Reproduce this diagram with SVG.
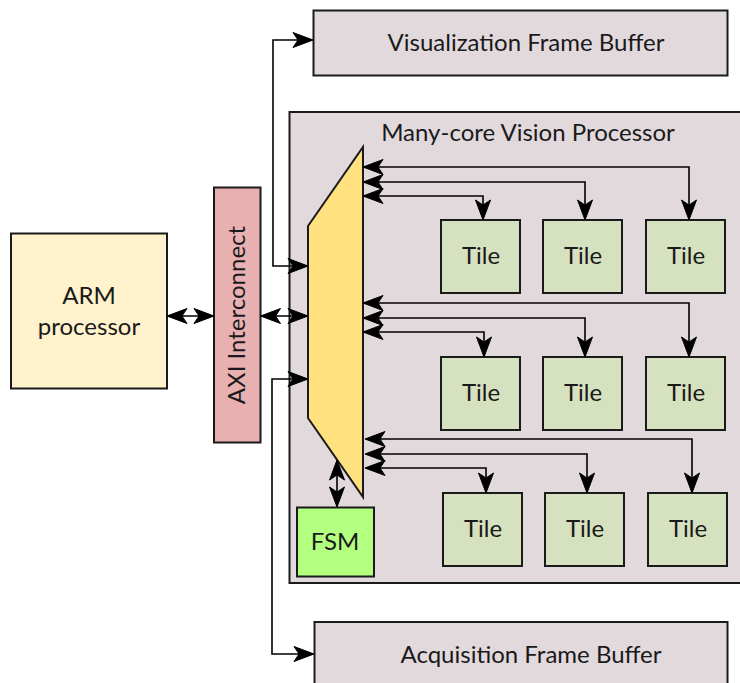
<svg xmlns="http://www.w3.org/2000/svg" width="740" height="683" viewBox="0 0 740 683">
  <style>
    .box { stroke: #1a1a1a; stroke-width: 2; }
    .buf { fill: #e2d9dd; }
    .tile { fill: #d6e2bf; }
    .lbl { font-family: Lato, "Liberation Sans", sans-serif; font-size: 24px; fill: #1a1a1a; text-anchor: middle; dominant-baseline: central; }
    .wire2 { fill: none; stroke: #000; stroke-width: 1.6; marker-start: url(#head); marker-end: url(#head); }
  </style>
  <defs>
    <marker id="head" viewBox="-1 -1 22 17" refX="19" refY="7.5" markerWidth="22" markerHeight="17" markerUnits="userSpaceOnUse" orient="auto-start-reverse">
      <path d="M0,0 L20,7.5 L0,15 L5,7.5 Z" fill="#000" stroke="#000" stroke-width="1" stroke-linejoin="miter"/>
    </marker>
  </defs>

  <rect width="740" height="683" fill="#fff"/>

  <g id="vis-buffer">
    <rect class="box buf" x="313.5" y="10.5" width="414" height="65"/>
    <text class="lbl" x="526" y="41.5">Visualization Frame Buffer</text>
  </g>

  <g id="vision-processor">
    <rect class="box buf" x="289.5" y="112" width="460" height="471"/>
    <text class="lbl" x="528" y="131.5">Many-core Vision Processor</text>
  </g>

  <g id="acq-buffer">
    <rect class="box buf" x="314.5" y="622" width="413" height="70"/>
    <text class="lbl" x="531" y="653.5">Acquisition Frame Buffer</text>
  </g>

  <g id="arm">
    <rect class="box" fill="#fff2cc" x="11" y="233.5" width="156" height="155"/>
    <text class="lbl" x="89" y="294.5">ARM</text>
    <text class="lbl" x="89" y="325.5">processor</text>
  </g>

  <g id="axi">
    <rect class="box" fill="#e8b0b0" x="214" y="187.5" width="46.5" height="255"/>
    <text class="lbl" transform="translate(235.5,315) rotate(-90)" x="0" y="0">AXI Interconnect</text>
  </g>

  <g id="mux">
    <polygon class="box" fill="#ffe180" points="308,226 363,147 363,497 308,418"/>
  </g>

  <g id="fsm">
    <rect class="box" fill="#b3ff80" x="297" y="507.5" width="77" height="69"/>
    <text class="lbl" x="335" y="540.5">FSM</text>
  </g>

  <g id="tile-1-1"><rect class="box tile" x="441" y="220" width="79" height="73"/><text class="lbl" x="481" y="254.5">Tile</text></g>
  <g id="tile-1-2"><rect class="box tile" x="543" y="220" width="79" height="73"/><text class="lbl" x="583" y="254.5">Tile</text></g>
  <g id="tile-1-3"><rect class="box tile" x="646" y="220" width="79" height="73"/><text class="lbl" x="686" y="254.5">Tile</text></g>

  <g id="tile-2-1"><rect class="box tile" x="441" y="357" width="79" height="73"/><text class="lbl" x="481" y="391.5">Tile</text></g>
  <g id="tile-2-2"><rect class="box tile" x="543" y="357" width="79" height="73"/><text class="lbl" x="583" y="391.5">Tile</text></g>
  <g id="tile-2-3"><rect class="box tile" x="646" y="357" width="79" height="73"/><text class="lbl" x="686" y="391.5">Tile</text></g>

  <g id="tile-3-1"><rect class="box tile" x="443" y="493" width="79" height="73"/><text class="lbl" x="483" y="527.5">Tile</text></g>
  <g id="tile-3-2"><rect class="box tile" x="545" y="493" width="79" height="73"/><text class="lbl" x="585" y="527.5">Tile</text></g>
  <g id="tile-3-3"><rect class="box tile" x="648" y="493" width="79" height="73"/><text class="lbl" x="688" y="527.5">Tile</text></g>

  <g id="connectors">
    <!-- host side -->
    <path class="wire2" d="M168,316 L213,316"/>
    <path class="wire2" d="M261.5,316 L307,316"/>
    <path class="wire2" d="M307,266 L273,266 L273,40 L312,40"/>
    <path class="wire2" d="M307,379 L272,379 L272,654 L313,654"/>
    <path class="wire2" d="M337,461 L337,506"/>

    <!-- mux to tiles, row 1 -->
    <path class="wire2" d="M364,167 L689,167 L689,219"/>
    <path class="wire2" d="M364,182 L585,182 L585,219"/>
    <path class="wire2" d="M364,196 L483,196 L483,219"/>

    <!-- mux to tiles, row 2 -->
    <path class="wire2" d="M364,303 L689,303 L689,356"/>
    <path class="wire2" d="M364,318 L585,318 L585,356"/>
    <path class="wire2" d="M364,332 L484,332 L484,356"/>

    <!-- mux to tiles, row 3 -->
    <path class="wire2" d="M366,439 L692,439 L692,492"/>
    <path class="wire2" d="M366,454 L587,454 L587,492"/>
    <path class="wire2" d="M366,468 L486,468 L486,492"/>
  </g>
</svg>
